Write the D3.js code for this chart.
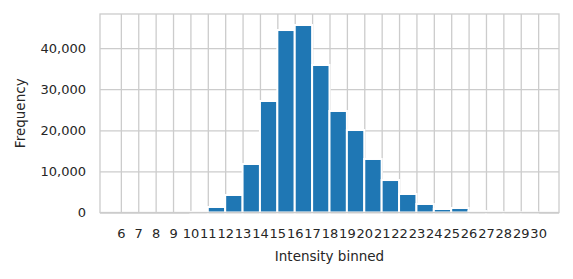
<!DOCTYPE html>
<html>
<head>
<meta charset="utf-8">
<script src="https://cdn.jsdelivr.net/npm/d3@7"></script>
<style>
  body { margin: 0; background: #fff; }
  text { font-family: "DejaVu Sans", sans-serif; fill: #262626; }
</style>
</head>
<body>
<div id="chart"></div>
<script>
// Histogram bins (left edge of each unit-wide bin) and counts
var binStarts = [6, 7, 8, 9, 10, 11, 12, 13, 14, 15, 16, 17, 18, 19, 20, 21, 22, 23, 24, 25, 26, 27, 28, 29];
var binCounts = [0, 0, 0, 0, 150, 1340, 4260, 11800, 27130, 44400, 45620, 35890, 24700, 20070, 13020, 7900, 4500, 2070, 850, 1090, 360, 40, 10, 10];
var xTicks = [6, 7, 8, 9, 10, 11, 12, 13, 14, 15, 16, 17, 18, 19, 20, 21, 22, 23, 24, 25, 26, 27, 28, 29, 30];
var yTicks = [0, 10000, 20000, 30000, 40000];
var xLimits = [4.8, 31.2];
var yLimits = [0, 48300];

var width = 573, height = 279,
    plot = { left: 100, right: 559, top: 14, bottom: 212.5 },
    gridColor = "#cccccc",
    barColor = "#1f77b4";

var svg = d3.select("#chart").append("svg")
    .attr("width", width)
    .attr("height", height);

var xScale = d3.scaleLinear().domain(xLimits).range([plot.left, plot.right]);
var yScale = d3.scaleLinear().domain(yLimits).range([plot.bottom, plot.top]);

// grid lines first so the bars sit on top
var xAxis = d3.axisBottom(xScale)
    .tickValues(xTicks)
    .tickSize(-(plot.bottom - plot.top))
    .tickPadding(16)
    .tickFormat(d3.format("d"));

var yAxis = d3.axisLeft(yScale)
    .tickValues(yTicks)
    .tickSize(-(plot.right - plot.left))
    .tickPadding(14)
    .tickFormat(d3.format(",d"));

var xg = svg.append("g")
    .attr("transform", "translate(0," + plot.bottom + ")")
    .call(xAxis);

var yg = svg.append("g")
    .attr("transform", "translate(" + plot.left + ",0)")
    .call(yAxis);

[xg, yg].forEach(function (g) {
    g.select(".domain").remove();
    g.selectAll(".tick line").attr("stroke", gridColor).attr("stroke-width", 1.3);
    g.selectAll(".tick text").style("font-size", "13px").attr("fill", "#262626");
});

// bars
svg.append("g")
    .selectAll("rect")
    .data(binStarts)
    .enter().append("rect")
    .attr("x", function (d) { return xScale(d); })
    .attr("width", function (d) { return xScale(d + 1) - xScale(d); })
    .attr("y", function (d, i) { return yScale(binCounts[i]); })
    .attr("height", function (d, i) { return yScale(0) - yScale(binCounts[i]); })
    .attr("fill", barColor)
    .attr("stroke", "#ffffff")
    .attr("stroke-width", 2);

// frame
svg.append("rect")
    .attr("x", plot.left)
    .attr("y", plot.top)
    .attr("width", plot.right - plot.left)
    .attr("height", plot.bottom - plot.top)
    .attr("fill", "none")
    .attr("stroke", gridColor)
    .attr("stroke-width", 1.3);

// axis labels
svg.append("text")
    .attr("x", (plot.left + plot.right) / 2)
    .attr("y", 261)
    .attr("text-anchor", "middle")
    .style("font-size", "13.5px")
    .text("Intensity binned");

svg.append("text")
    .attr("transform", "translate(25," + (plot.top + plot.bottom) / 2 + ") rotate(-90)")
    .attr("text-anchor", "middle")
    .style("font-size", "13.5px")
    .text("Frequency");
</script>
</body>
</html>
